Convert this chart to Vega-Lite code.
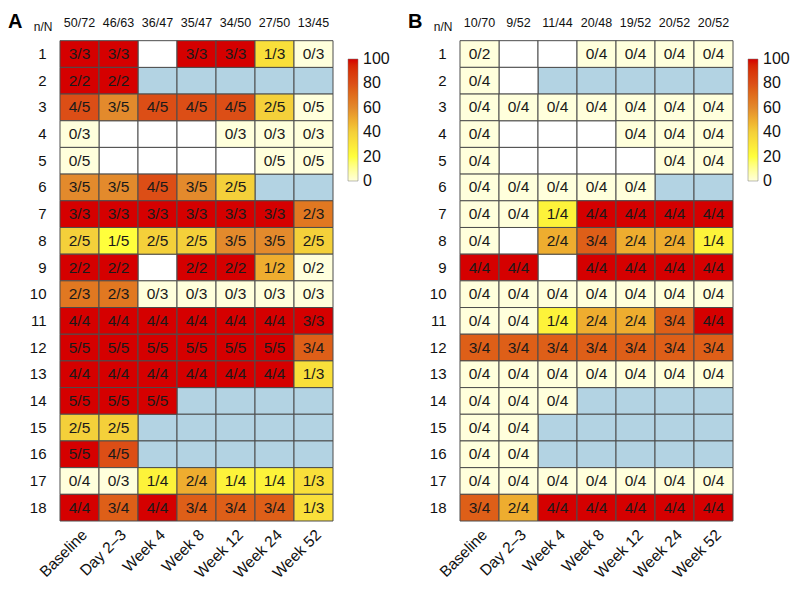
{
  "$schema": "https://vega.github.io/schema/vega-lite/v6.json",
  "background": "white",
  "padding": {"left": 8, "top": 12, "right": 5, "bottom": 5},
  "bounds": "flush",
  "spacing": 127,
  "config": {
    "font": "Liberation Sans",
    "view": {"stroke": null},
    "axis": {"domain": false, "ticks": false, "grid": false, "labelColor": "#111", "title": null}
  },
  "datasets": {
    "A": [
      {"r":"n/N","t":"Baseline","l":"50/72","s":"h"},{"r":"n/N","t":"Day 2–3","l":"46/63","s":"h"},{"r":"n/N","t":"Week 4","l":"36/47","s":"h"},{"r":"n/N","t":"Week 8","l":"35/47","s":"h"},{"r":"n/N","t":"Week 12","l":"34/50","s":"h"},{"r":"n/N","t":"Week 24","l":"27/50","s":"h"},{"r":"n/N","t":"Week 52","l":"13/45","s":"h"},
      {"r":"1","t":"Baseline","l":"3/3","v":100,"s":"v"},{"r":"1","t":"Day 2–3","l":"3/3","v":100,"s":"v"},{"r":"1","t":"Week 4","s":"m"},{"r":"1","t":"Week 8","l":"3/3","v":100,"s":"v"},{"r":"1","t":"Week 12","l":"3/3","v":100,"s":"v"},{"r":"1","t":"Week 24","l":"1/3","v":33.3,"s":"v"},{"r":"1","t":"Week 52","l":"0/3","v":0,"s":"v"},
      {"r":"2","t":"Baseline","l":"2/2","v":100,"s":"v"},{"r":"2","t":"Day 2–3","l":"2/2","v":100,"s":"v"},{"r":"2","t":"Week 4","s":"na"},{"r":"2","t":"Week 8","s":"na"},{"r":"2","t":"Week 12","s":"na"},{"r":"2","t":"Week 24","s":"na"},{"r":"2","t":"Week 52","s":"na"},
      {"r":"3","t":"Baseline","l":"4/5","v":80,"s":"v"},{"r":"3","t":"Day 2–3","l":"3/5","v":60,"s":"v"},{"r":"3","t":"Week 4","l":"4/5","v":80,"s":"v"},{"r":"3","t":"Week 8","l":"4/5","v":80,"s":"v"},{"r":"3","t":"Week 12","l":"4/5","v":80,"s":"v"},{"r":"3","t":"Week 24","l":"2/5","v":40,"s":"v"},{"r":"3","t":"Week 52","l":"0/5","v":0,"s":"v"},
      {"r":"4","t":"Baseline","l":"0/3","v":0,"s":"v"},{"r":"4","t":"Day 2–3","s":"m"},{"r":"4","t":"Week 4","s":"m"},{"r":"4","t":"Week 8","s":"m"},{"r":"4","t":"Week 12","l":"0/3","v":0,"s":"v"},{"r":"4","t":"Week 24","l":"0/3","v":0,"s":"v"},{"r":"4","t":"Week 52","l":"0/3","v":0,"s":"v"},
      {"r":"5","t":"Baseline","l":"0/5","v":0,"s":"v"},{"r":"5","t":"Day 2–3","s":"m"},{"r":"5","t":"Week 4","s":"m"},{"r":"5","t":"Week 8","s":"m"},{"r":"5","t":"Week 12","s":"m"},{"r":"5","t":"Week 24","l":"0/5","v":0,"s":"v"},{"r":"5","t":"Week 52","l":"0/5","v":0,"s":"v"},
      {"r":"6","t":"Baseline","l":"3/5","v":60,"s":"v"},{"r":"6","t":"Day 2–3","l":"3/5","v":60,"s":"v"},{"r":"6","t":"Week 4","l":"4/5","v":80,"s":"v"},{"r":"6","t":"Week 8","l":"3/5","v":60,"s":"v"},{"r":"6","t":"Week 12","l":"2/5","v":40,"s":"v"},{"r":"6","t":"Week 24","s":"na"},{"r":"6","t":"Week 52","s":"na"},
      {"r":"7","t":"Baseline","l":"3/3","v":100,"s":"v"},{"r":"7","t":"Day 2–3","l":"3/3","v":100,"s":"v"},{"r":"7","t":"Week 4","l":"3/3","v":100,"s":"v"},{"r":"7","t":"Week 8","l":"3/3","v":100,"s":"v"},{"r":"7","t":"Week 12","l":"3/3","v":100,"s":"v"},{"r":"7","t":"Week 24","l":"3/3","v":100,"s":"v"},{"r":"7","t":"Week 52","l":"2/3","v":66.7,"s":"v"},
      {"r":"8","t":"Baseline","l":"2/5","v":40,"s":"v"},{"r":"8","t":"Day 2–3","l":"1/5","v":20,"s":"v"},{"r":"8","t":"Week 4","l":"2/5","v":40,"s":"v"},{"r":"8","t":"Week 8","l":"2/5","v":40,"s":"v"},{"r":"8","t":"Week 12","l":"3/5","v":60,"s":"v"},{"r":"8","t":"Week 24","l":"3/5","v":60,"s":"v"},{"r":"8","t":"Week 52","l":"2/5","v":40,"s":"v"},
      {"r":"9","t":"Baseline","l":"2/2","v":100,"s":"v"},{"r":"9","t":"Day 2–3","l":"2/2","v":100,"s":"v"},{"r":"9","t":"Week 4","s":"m"},{"r":"9","t":"Week 8","l":"2/2","v":100,"s":"v"},{"r":"9","t":"Week 12","l":"2/2","v":100,"s":"v"},{"r":"9","t":"Week 24","l":"1/2","v":50,"s":"v"},{"r":"9","t":"Week 52","l":"0/2","v":0,"s":"v"},
      {"r":"10","t":"Baseline","l":"2/3","v":66.7,"s":"v"},{"r":"10","t":"Day 2–3","l":"2/3","v":66.7,"s":"v"},{"r":"10","t":"Week 4","l":"0/3","v":0,"s":"v"},{"r":"10","t":"Week 8","l":"0/3","v":0,"s":"v"},{"r":"10","t":"Week 12","l":"0/3","v":0,"s":"v"},{"r":"10","t":"Week 24","l":"0/3","v":0,"s":"v"},{"r":"10","t":"Week 52","l":"0/3","v":0,"s":"v"},
      {"r":"11","t":"Baseline","l":"4/4","v":100,"s":"v"},{"r":"11","t":"Day 2–3","l":"4/4","v":100,"s":"v"},{"r":"11","t":"Week 4","l":"4/4","v":100,"s":"v"},{"r":"11","t":"Week 8","l":"4/4","v":100,"s":"v"},{"r":"11","t":"Week 12","l":"4/4","v":100,"s":"v"},{"r":"11","t":"Week 24","l":"4/4","v":100,"s":"v"},{"r":"11","t":"Week 52","l":"3/3","v":100,"s":"v"},
      {"r":"12","t":"Baseline","l":"5/5","v":100,"s":"v"},{"r":"12","t":"Day 2–3","l":"5/5","v":100,"s":"v"},{"r":"12","t":"Week 4","l":"5/5","v":100,"s":"v"},{"r":"12","t":"Week 8","l":"5/5","v":100,"s":"v"},{"r":"12","t":"Week 12","l":"5/5","v":100,"s":"v"},{"r":"12","t":"Week 24","l":"5/5","v":100,"s":"v"},{"r":"12","t":"Week 52","l":"3/4","v":75,"s":"v"},
      {"r":"13","t":"Baseline","l":"4/4","v":100,"s":"v"},{"r":"13","t":"Day 2–3","l":"4/4","v":100,"s":"v"},{"r":"13","t":"Week 4","l":"4/4","v":100,"s":"v"},{"r":"13","t":"Week 8","l":"4/4","v":100,"s":"v"},{"r":"13","t":"Week 12","l":"4/4","v":100,"s":"v"},{"r":"13","t":"Week 24","l":"4/4","v":100,"s":"v"},{"r":"13","t":"Week 52","l":"1/3","v":33.3,"s":"v"},
      {"r":"14","t":"Baseline","l":"5/5","v":100,"s":"v"},{"r":"14","t":"Day 2–3","l":"5/5","v":100,"s":"v"},{"r":"14","t":"Week 4","l":"5/5","v":100,"s":"v"},{"r":"14","t":"Week 8","s":"na"},{"r":"14","t":"Week 12","s":"na"},{"r":"14","t":"Week 24","s":"na"},{"r":"14","t":"Week 52","s":"na"},
      {"r":"15","t":"Baseline","l":"2/5","v":40,"s":"v"},{"r":"15","t":"Day 2–3","l":"2/5","v":40,"s":"v"},{"r":"15","t":"Week 4","s":"na"},{"r":"15","t":"Week 8","s":"na"},{"r":"15","t":"Week 12","s":"na"},{"r":"15","t":"Week 24","s":"na"},{"r":"15","t":"Week 52","s":"na"},
      {"r":"16","t":"Baseline","l":"5/5","v":100,"s":"v"},{"r":"16","t":"Day 2–3","l":"4/5","v":80,"s":"v"},{"r":"16","t":"Week 4","s":"na"},{"r":"16","t":"Week 8","s":"na"},{"r":"16","t":"Week 12","s":"na"},{"r":"16","t":"Week 24","s":"na"},{"r":"16","t":"Week 52","s":"na"},
      {"r":"17","t":"Baseline","l":"0/4","v":0,"s":"v"},{"r":"17","t":"Day 2–3","l":"0/3","v":0,"s":"v"},{"r":"17","t":"Week 4","l":"1/4","v":25,"s":"v"},{"r":"17","t":"Week 8","l":"2/4","v":50,"s":"v"},{"r":"17","t":"Week 12","l":"1/4","v":25,"s":"v"},{"r":"17","t":"Week 24","l":"1/4","v":25,"s":"v"},{"r":"17","t":"Week 52","l":"1/3","v":33.3,"s":"v"},
      {"r":"18","t":"Baseline","l":"4/4","v":100,"s":"v"},{"r":"18","t":"Day 2–3","l":"3/4","v":75,"s":"v"},{"r":"18","t":"Week 4","l":"4/4","v":100,"s":"v"},{"r":"18","t":"Week 8","l":"3/4","v":75,"s":"v"},{"r":"18","t":"Week 12","l":"3/4","v":75,"s":"v"},{"r":"18","t":"Week 24","l":"3/4","v":75,"s":"v"},{"r":"18","t":"Week 52","l":"1/3","v":33.3,"s":"v"}
    ],
    "B": [
      {"r":"n/N","t":"Baseline","l":"10/70","s":"h"},{"r":"n/N","t":"Day 2–3","l":"9/52","s":"h"},{"r":"n/N","t":"Week 4","l":"11/44","s":"h"},{"r":"n/N","t":"Week 8","l":"20/48","s":"h"},{"r":"n/N","t":"Week 12","l":"19/52","s":"h"},{"r":"n/N","t":"Week 24","l":"20/52","s":"h"},{"r":"n/N","t":"Week 52","l":"20/52","s":"h"},
      {"r":"1","t":"Baseline","l":"0/2","v":0,"s":"v"},{"r":"1","t":"Day 2–3","s":"m"},{"r":"1","t":"Week 4","s":"m"},{"r":"1","t":"Week 8","l":"0/4","v":0,"s":"v"},{"r":"1","t":"Week 12","l":"0/4","v":0,"s":"v"},{"r":"1","t":"Week 24","l":"0/4","v":0,"s":"v"},{"r":"1","t":"Week 52","l":"0/4","v":0,"s":"v"},
      {"r":"2","t":"Baseline","l":"0/4","v":0,"s":"v"},{"r":"2","t":"Day 2–3","s":"m"},{"r":"2","t":"Week 4","s":"na"},{"r":"2","t":"Week 8","s":"na"},{"r":"2","t":"Week 12","s":"na"},{"r":"2","t":"Week 24","s":"na"},{"r":"2","t":"Week 52","s":"na"},
      {"r":"3","t":"Baseline","l":"0/4","v":0,"s":"v"},{"r":"3","t":"Day 2–3","l":"0/4","v":0,"s":"v"},{"r":"3","t":"Week 4","l":"0/4","v":0,"s":"v"},{"r":"3","t":"Week 8","l":"0/4","v":0,"s":"v"},{"r":"3","t":"Week 12","l":"0/4","v":0,"s":"v"},{"r":"3","t":"Week 24","l":"0/4","v":0,"s":"v"},{"r":"3","t":"Week 52","l":"0/4","v":0,"s":"v"},
      {"r":"4","t":"Baseline","l":"0/4","v":0,"s":"v"},{"r":"4","t":"Day 2–3","s":"m"},{"r":"4","t":"Week 4","s":"m"},{"r":"4","t":"Week 8","s":"m"},{"r":"4","t":"Week 12","l":"0/4","v":0,"s":"v"},{"r":"4","t":"Week 24","l":"0/4","v":0,"s":"v"},{"r":"4","t":"Week 52","l":"0/4","v":0,"s":"v"},
      {"r":"5","t":"Baseline","l":"0/4","v":0,"s":"v"},{"r":"5","t":"Day 2–3","s":"m"},{"r":"5","t":"Week 4","s":"m"},{"r":"5","t":"Week 8","s":"m"},{"r":"5","t":"Week 12","s":"m"},{"r":"5","t":"Week 24","l":"0/4","v":0,"s":"v"},{"r":"5","t":"Week 52","l":"0/4","v":0,"s":"v"},
      {"r":"6","t":"Baseline","l":"0/4","v":0,"s":"v"},{"r":"6","t":"Day 2–3","l":"0/4","v":0,"s":"v"},{"r":"6","t":"Week 4","l":"0/4","v":0,"s":"v"},{"r":"6","t":"Week 8","l":"0/4","v":0,"s":"v"},{"r":"6","t":"Week 12","l":"0/4","v":0,"s":"v"},{"r":"6","t":"Week 24","s":"na"},{"r":"6","t":"Week 52","s":"na"},
      {"r":"7","t":"Baseline","l":"0/4","v":0,"s":"v"},{"r":"7","t":"Day 2–3","l":"0/4","v":0,"s":"v"},{"r":"7","t":"Week 4","l":"1/4","v":25,"s":"v"},{"r":"7","t":"Week 8","l":"4/4","v":100,"s":"v"},{"r":"7","t":"Week 12","l":"4/4","v":100,"s":"v"},{"r":"7","t":"Week 24","l":"4/4","v":100,"s":"v"},{"r":"7","t":"Week 52","l":"4/4","v":100,"s":"v"},
      {"r":"8","t":"Baseline","l":"0/4","v":0,"s":"v"},{"r":"8","t":"Day 2–3","s":"m"},{"r":"8","t":"Week 4","l":"2/4","v":50,"s":"v"},{"r":"8","t":"Week 8","l":"3/4","v":75,"s":"v"},{"r":"8","t":"Week 12","l":"2/4","v":50,"s":"v"},{"r":"8","t":"Week 24","l":"2/4","v":50,"s":"v"},{"r":"8","t":"Week 52","l":"1/4","v":25,"s":"v"},
      {"r":"9","t":"Baseline","l":"4/4","v":100,"s":"v"},{"r":"9","t":"Day 2–3","l":"4/4","v":100,"s":"v"},{"r":"9","t":"Week 4","s":"m"},{"r":"9","t":"Week 8","l":"4/4","v":100,"s":"v"},{"r":"9","t":"Week 12","l":"4/4","v":100,"s":"v"},{"r":"9","t":"Week 24","l":"4/4","v":100,"s":"v"},{"r":"9","t":"Week 52","l":"4/4","v":100,"s":"v"},
      {"r":"10","t":"Baseline","l":"0/4","v":0,"s":"v"},{"r":"10","t":"Day 2–3","l":"0/4","v":0,"s":"v"},{"r":"10","t":"Week 4","l":"0/4","v":0,"s":"v"},{"r":"10","t":"Week 8","l":"0/4","v":0,"s":"v"},{"r":"10","t":"Week 12","l":"0/4","v":0,"s":"v"},{"r":"10","t":"Week 24","l":"0/4","v":0,"s":"v"},{"r":"10","t":"Week 52","l":"0/4","v":0,"s":"v"},
      {"r":"11","t":"Baseline","l":"0/4","v":0,"s":"v"},{"r":"11","t":"Day 2–3","l":"0/4","v":0,"s":"v"},{"r":"11","t":"Week 4","l":"1/4","v":25,"s":"v"},{"r":"11","t":"Week 8","l":"2/4","v":50,"s":"v"},{"r":"11","t":"Week 12","l":"2/4","v":50,"s":"v"},{"r":"11","t":"Week 24","l":"3/4","v":75,"s":"v"},{"r":"11","t":"Week 52","l":"4/4","v":100,"s":"v"},
      {"r":"12","t":"Baseline","l":"3/4","v":75,"s":"v"},{"r":"12","t":"Day 2–3","l":"3/4","v":75,"s":"v"},{"r":"12","t":"Week 4","l":"3/4","v":75,"s":"v"},{"r":"12","t":"Week 8","l":"3/4","v":75,"s":"v"},{"r":"12","t":"Week 12","l":"3/4","v":75,"s":"v"},{"r":"12","t":"Week 24","l":"3/4","v":75,"s":"v"},{"r":"12","t":"Week 52","l":"3/4","v":75,"s":"v"},
      {"r":"13","t":"Baseline","l":"0/4","v":0,"s":"v"},{"r":"13","t":"Day 2–3","l":"0/4","v":0,"s":"v"},{"r":"13","t":"Week 4","l":"0/4","v":0,"s":"v"},{"r":"13","t":"Week 8","l":"0/4","v":0,"s":"v"},{"r":"13","t":"Week 12","l":"0/4","v":0,"s":"v"},{"r":"13","t":"Week 24","l":"0/4","v":0,"s":"v"},{"r":"13","t":"Week 52","l":"0/4","v":0,"s":"v"},
      {"r":"14","t":"Baseline","l":"0/4","v":0,"s":"v"},{"r":"14","t":"Day 2–3","l":"0/4","v":0,"s":"v"},{"r":"14","t":"Week 4","l":"0/4","v":0,"s":"v"},{"r":"14","t":"Week 8","s":"na"},{"r":"14","t":"Week 12","s":"na"},{"r":"14","t":"Week 24","s":"na"},{"r":"14","t":"Week 52","s":"na"},
      {"r":"15","t":"Baseline","l":"0/4","v":0,"s":"v"},{"r":"15","t":"Day 2–3","l":"0/4","v":0,"s":"v"},{"r":"15","t":"Week 4","s":"na"},{"r":"15","t":"Week 8","s":"na"},{"r":"15","t":"Week 12","s":"na"},{"r":"15","t":"Week 24","s":"na"},{"r":"15","t":"Week 52","s":"na"},
      {"r":"16","t":"Baseline","l":"0/4","v":0,"s":"v"},{"r":"16","t":"Day 2–3","l":"0/4","v":0,"s":"v"},{"r":"16","t":"Week 4","s":"na"},{"r":"16","t":"Week 8","s":"na"},{"r":"16","t":"Week 12","s":"na"},{"r":"16","t":"Week 24","s":"na"},{"r":"16","t":"Week 52","s":"na"},
      {"r":"17","t":"Baseline","l":"0/4","v":0,"s":"v"},{"r":"17","t":"Day 2–3","l":"0/4","v":0,"s":"v"},{"r":"17","t":"Week 4","l":"0/4","v":0,"s":"v"},{"r":"17","t":"Week 8","l":"0/4","v":0,"s":"v"},{"r":"17","t":"Week 12","l":"0/4","v":0,"s":"v"},{"r":"17","t":"Week 24","l":"0/4","v":0,"s":"v"},{"r":"17","t":"Week 52","l":"0/4","v":0,"s":"v"},
      {"r":"18","t":"Baseline","l":"3/4","v":75,"s":"v"},{"r":"18","t":"Day 2–3","l":"2/4","v":50,"s":"v"},{"r":"18","t":"Week 4","l":"4/4","v":100,"s":"v"},{"r":"18","t":"Week 8","l":"4/4","v":100,"s":"v"},{"r":"18","t":"Week 12","l":"4/4","v":100,"s":"v"},{"r":"18","t":"Week 24","l":"4/4","v":100,"s":"v"},{"r":"18","t":"Week 52","l":"4/4","v":100,"s":"v"}
    ]
  },
  "resolve": {"scale": {"color": "independent"}},
  "hconcat": [
    {
      "title": {"text": "A", "anchor": "start", "frame": "group", "fontSize": 20, "fontWeight": "bold", "dx": -52, "offset": -18},
      "width": 273, "height": 507,
      "data": {"name": "A"},
      "encoding": {
        "x": {"field": "t", "type": "nominal", "sort": ["Baseline","Day 2–3","Week 4","Week 8","Week 12","Week 24","Week 52"], "scale": {"paddingInner": 0, "paddingOuter": 0},
              "axis": {"labelAngle": -45, "labelAlign": "right", "labelBaseline": "top", "labelFontSize": 15.5, "labelPadding": 6}},
        "y": {"field": "r", "type": "nominal", "sort": ["n/N","1","2","3","4","5","6","7","8","9","10","11","12","13","14","15","16","17","18"], "scale": {"paddingInner": 0, "paddingOuter": 0},
              "axis": {"labelFontSize": {"condition": {"test": "datum.value === 'n/N'", "value": 12}, "value": 15}, "labelPadding": {"condition": {"test": "datum.value === 'n/N'", "value": 8}, "value": 14}}}
      },
      "layer": [
        {
          "transform": [{"filter": "datum.s === 'na'"}],
          "mark": {"type": "rect", "fill": "#B3D3E3", "stroke": "#4d4d4d", "strokeWidth": 1}
        },
        {
          "transform": [{"filter": "datum.s === 'm'"}],
          "mark": {"type": "rect", "fill": "#FFFFFF", "stroke": "#4d4d4d", "strokeWidth": 1}
        },
        {
          "transform": [{"filter": "datum.s === 'v'"}],
          "mark": {"type": "rect", "stroke": "#4d4d4d", "strokeWidth": 1},
          "encoding": {
            "color": {
              "field": "v", "type": "quantitative",
              "scale": {"domain": [0, 20, 40, 60, 80, 100], "range": ["#FFFFDC", "#FFFF3C", "#F4D03A", "#E38A2C", "#DC4E16", "#D50000"]},
              "legend": {"title": null, "orient": "none", "legendX": 288, "legendY": 45, "direction": "vertical", "gradientLength": 122, "gradientThickness": 10, "values": [0, 20, 40, 60, 80, 100], "labelFontSize": 16, "labelColor": "#111", "gradientStrokeColor": "#777", "gradientStrokeWidth": 0.5, "labelOffset": 5,
                         "encode": {"labels": {"update": {"baseline": {"value": "middle"}}}}}
            }
          }
        },
        {
          "transform": [{"filter": "datum.s === 'v'"}],
          "mark": {"type": "text", "fontSize": 15.5, "color": "#1a1a1a"},
          "encoding": {"text": {"field": "l"}}
        },
        {
          "transform": [{"filter": "datum.s === 'h'"}],
          "mark": {"type": "text", "fontSize": 12.5, "color": "#111", "dy": -4},
          "encoding": {"text": {"field": "l"}}
        }
      ]
    },
    {
      "title": {"text": "B", "anchor": "start", "frame": "group", "fontSize": 20, "fontWeight": "bold", "dx": -52, "offset": -18},
      "width": 273, "height": 507,
      "data": {"name": "B"},
      "encoding": {
        "x": {"field": "t", "type": "nominal", "sort": ["Baseline","Day 2–3","Week 4","Week 8","Week 12","Week 24","Week 52"], "scale": {"paddingInner": 0, "paddingOuter": 0},
              "axis": {"labelAngle": -45, "labelAlign": "right", "labelBaseline": "top", "labelFontSize": 15.5, "labelPadding": 6}},
        "y": {"field": "r", "type": "nominal", "sort": ["n/N","1","2","3","4","5","6","7","8","9","10","11","12","13","14","15","16","17","18"], "scale": {"paddingInner": 0, "paddingOuter": 0},
              "axis": {"labelFontSize": {"condition": {"test": "datum.value === 'n/N'", "value": 12}, "value": 15}, "labelPadding": {"condition": {"test": "datum.value === 'n/N'", "value": 8}, "value": 14}}}
      },
      "layer": [
        {
          "transform": [{"filter": "datum.s === 'na'"}],
          "mark": {"type": "rect", "fill": "#B3D3E3", "stroke": "#4d4d4d", "strokeWidth": 1}
        },
        {
          "transform": [{"filter": "datum.s === 'm'"}],
          "mark": {"type": "rect", "fill": "#FFFFFF", "stroke": "#4d4d4d", "strokeWidth": 1}
        },
        {
          "transform": [{"filter": "datum.s === 'v'"}],
          "mark": {"type": "rect", "stroke": "#4d4d4d", "strokeWidth": 1},
          "encoding": {
            "color": {
              "field": "v", "type": "quantitative",
              "scale": {"domain": [0, 20, 40, 60, 80, 100], "range": ["#FFFFDC", "#FFFF3C", "#F4D03A", "#E38A2C", "#DC4E16", "#D50000"]},
              "legend": {"title": null, "orient": "none", "legendX": 288, "legendY": 45, "direction": "vertical", "gradientLength": 122, "gradientThickness": 10, "values": [0, 20, 40, 60, 80, 100], "labelFontSize": 16, "labelColor": "#111", "gradientStrokeColor": "#777", "gradientStrokeWidth": 0.5, "labelOffset": 5,
                         "encode": {"labels": {"update": {"baseline": {"value": "middle"}}}}}
            }
          }
        },
        {
          "transform": [{"filter": "datum.s === 'v'"}],
          "mark": {"type": "text", "fontSize": 15.5, "color": "#1a1a1a"},
          "encoding": {"text": {"field": "l"}}
        },
        {
          "transform": [{"filter": "datum.s === 'h'"}],
          "mark": {"type": "text", "fontSize": 12.5, "color": "#111", "dy": -4},
          "encoding": {"text": {"field": "l"}}
        }
      ]
    }
  ]
}
